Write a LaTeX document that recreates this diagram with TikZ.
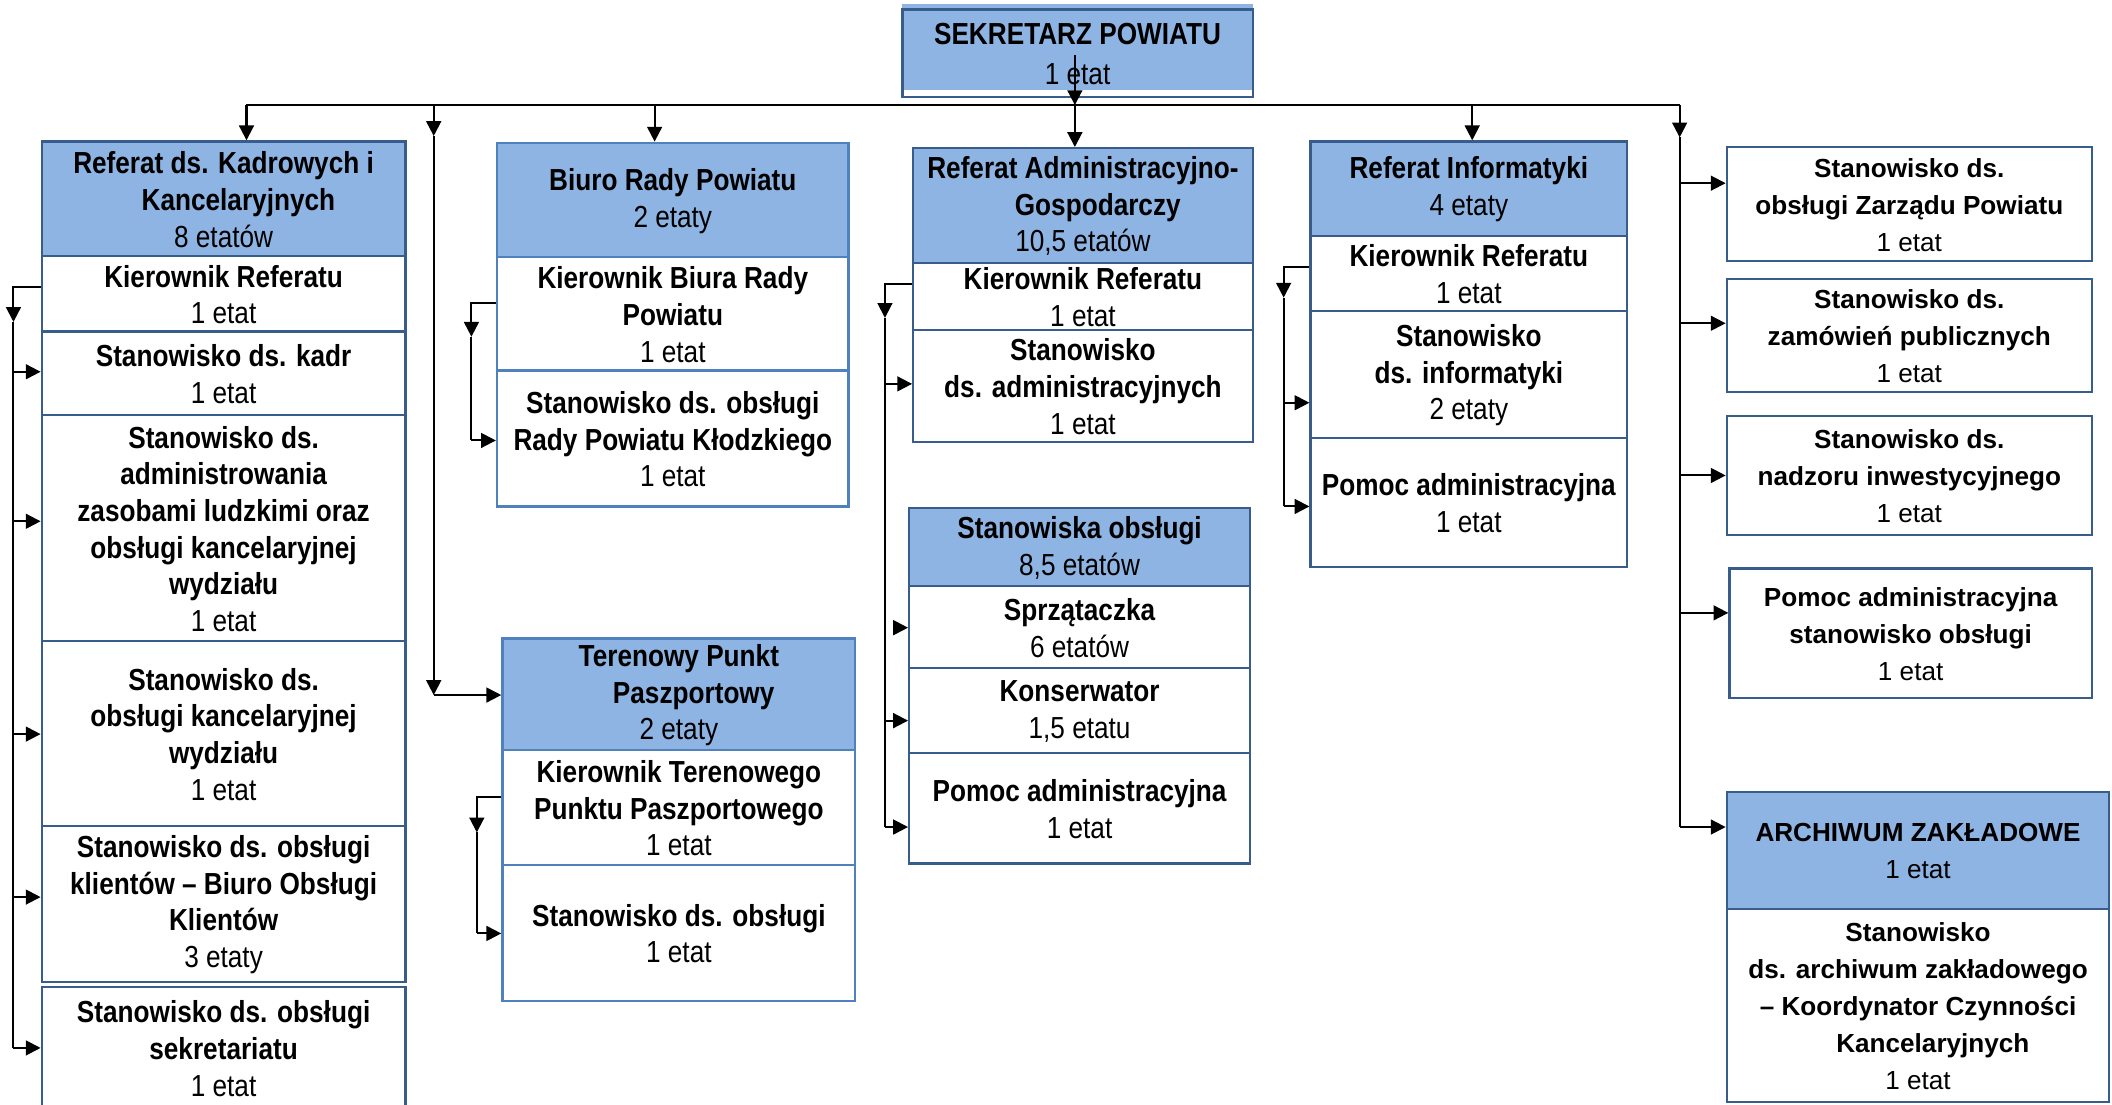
\documentclass[tikz,border=0pt]{standalone}
\usepackage{fontspec}
\setmainfont{Liberation Sans}
\newfontfamily\nb[FakeStretch=0.86]{Liberation Sans}
\usetikzlibrary{fit,arrows.meta}
\definecolor{bfill}{RGB}{142,180,227}
\definecolor{bdark}{RGB}{56,93,138}
\definecolor{blight}{RGB}{79,129,189}
\newcommand\nfont{\nb\fontsize{11.3}{13.6}\selectfont\bfseries}
\newcommand\rfont{\fontsize{9.7}{13.75}\selectfont\bfseries}
\newcommand\et[1]{{\mdseries #1}}
\newcommand\ind{\hspace*{11pt}}
\tikzset{
 box/.style={draw=bdark, line width=0.85pt, inner sep=0pt},
 ntx/.style={font=\nfont, align=center, inner sep=0pt},
 rtx/.style={font=\rfont, align=center, inner sep=0pt},
 hd/.style={fill=bfill},
 wb/.style={},
 lt/.style={draw=blight},
 conn/.style={line width=0.75pt, black},
 arr/.style={conn, -{Triangle[length=5.5pt,width=5.5pt]}},
}
% #1 box options, #2 fit points, #3 name, #4 text style, #5 text
\newcommand\bx[5]{\node[box,#1,fit={#2}] (#3) {};
  \node[#4] (#3t) at ([yshift=-0.3pt]#3.center) {#5};}
\begin{document}
\begin{tikzpicture}[x=0.5pt,y=-0.5pt]
\useasboundingbox (0,0) rectangle (1568,820);
% Sekretarz
\fill[bfill] (670,3) rectangle (930,67);
\bx{}{(670,7) (930,72)}{sek}{ntx}{SEKRETARZ POWIATU\\[1pt]\et{1 etat}}
% Kadr column
\bx{hd}{(31,105) (301,190)}{kh}{ntx}{Referat ds. Kadrowych i\\\ind Kancelaryjnych\\\et{8 etatów}}
\bx{wb}{(31,190) (301,246)}{k1}{ntx}{Kierownik Referatu\\\et{1 etat}}
\bx{wb}{(31,246) (301,308)}{k2}{ntx}{Stanowisko ds. kadr\\\et{1 etat}}
\bx{wb}{(31,308) (301,476)}{k3}{ntx}{Stanowisko ds.\\administrowania\\zasobami ludzkimi oraz\\obsługi kancelaryjnej\\wydziału\\\et{1 etat}}
\bx{wb}{(31,476) (301,613)}{k4}{ntx}{Stanowisko ds.\\obsługi kancelaryjnej\\wydziału\\\et{1 etat}}
\bx{wb}{(31,613) (301,729)}{k5}{ntx}{Stanowisko ds. obsługi\\klientów – Biuro Obsługi\\Klientów\\\et{3 etaty}}
\bx{wb}{(31,733) (301,823)}{k6}{ntx}{Stanowisko ds. obsługi\\sekretariatu\\\et{1 etat}}
% Biuro
\bx{hd,lt}{(369,106) (630,191)}{bh}{ntx}{Biuro Rady Powiatu\\\et{2 etaty}}
\bx{wb,lt}{(369,191) (630,275)}{b1}{ntx}{Kierownik Biura Rady\\Powiatu\\\et{1 etat}}
\bx{wb,lt}{(369,275) (630,376)}{b2}{ntx}{Stanowisko ds. obsługi\\Rady Powiatu Kłodzkiego\\\et{1 etat}}
% Terenowy
\bx{hd,lt}{(373,474) (635,557)}{th}{ntx}{Terenowy Punkt\\\ind Paszportowy\\\et{2 etaty}}
\bx{wb,lt}{(373,557) (635,642)}{t1}{ntx}{Kierownik Terenowego\\Punktu Paszportowego\\\et{1 etat}}
\bx{wb,lt}{(373,642) (635,743)}{t2}{ntx}{Stanowisko ds. obsługi\\\et{1 etat}}
% Admin
\bx{hd}{(678,110) (930,195)}{ah}{ntx}{Referat Administracyjno-\\\ind Gospodarczy\\\et{10,5 etatów}}
\bx{wb}{(678,195) (930,245)}{a1}{ntx}{Kierownik Referatu\\\et{1 etat}}
\bx{wb}{(678,245) (930,328)}{a2}{ntx}{Stanowisko\\ds. administracyjnych\\\et{1 etat}}
% Obsluga
\bx{hd}{(675,377) (928,435)}{oh}{ntx}{Stanowiska obsługi\\\et{8,5 etatów}}
\bx{wb}{(675,435) (928,496)}{o1}{ntx}{Sprzątaczka\\\et{6 etatów}}
\bx{wb}{(675,496) (928,559)}{o2}{ntx}{Konserwator\\\et{1,5 etatu}}
\bx{wb}{(675,559) (928,641)}{o3}{ntx}{Pomoc administracyjna\\\et{1 etat}}
% Informatyka
\bx{hd}{(973,105) (1208,175)}{ih}{ntx}{Referat Informatyki\\\et{4 etaty}}
\bx{wb}{(973,175) (1208,231)}{i1}{ntx}{Kierownik Referatu\\\et{1 etat}}
\bx{wb}{(973,231) (1208,325)}{i2}{ntx}{Stanowisko\\ds. informatyki\\\et{2 etaty}}
\bx{wb}{(973,325) (1208,421)}{i3}{ntx}{Pomoc administracyjna\\\et{1 etat}}
% Right column
\bx{wb}{(1282,109) (1553,194)}{r1}{rtx}{Stanowisko ds.\\obsługi Zarządu Powiatu\\\et{1 etat}}
\bx{wb}{(1282,207) (1553,291)}{r2}{rtx}{Stanowisko ds.\\zamówień publicznych\\\et{1 etat}}
\bx{wb}{(1282,309) (1553,397)}{r3}{rtx}{Stanowisko ds.\\nadzoru inwestycyjnego\\\et{1 etat}}
\bx{wb}{(1284,422) (1553,518)}{r4}{rtx}{Pomoc administracyjna\\stanowisko obsługi\\\et{1 etat}}
\bx{hd}{(1282,588) (1566,675)}{arh}{rtx}{ARCHIWUM ZAKŁADOWE\\\et{1 etat}}
\bx{wb}{(1282,675) (1566,818)}{ar1}{rtx}{Stanowisko\\ds. archiwum zakładowego\\– Koordynator Czynności\\\ind Kancelaryjnych\\\et{1 etat}}
% Bus
\coordinate (pL) at (183,78); \coordinate (pR) at (1247,78);
\draw[conn] (pL) -- (pR);
\coordinate (s0) at (798,41); \coordinate (s1) at (798,78);
\draw[arr] (s0) -- (s1);
\draw[arr] (pL) -- (pL |- kh.north);
\coordinate (p2) at (322,78); \coordinate (p2a) at (322,101); \coordinate (p2b) at (322,516);
\draw[arr] (p2) -- (p2a); \draw[arr] (p2a) -- (p2b); \draw[arr] (p2b) -- (th.west |- p2b);
\coordinate (p3) at (486,78); \draw[arr] (p3) -- (p3 |- bh.north);
\coordinate (p4) at (798,78); \draw[arr] (p4) -- (p4 |- ah.north);
\coordinate (p5) at (1093,78); \draw[arr] (p5) -- (p5 |- ih.north);
\coordinate (p6a) at (1247,102); \coordinate (p6b) at (1247,614);
\draw[arr] (pR) -- (p6a); \draw[conn] (p6a) -- (p6b);
\foreach \n/\yy in {r1/136,r2/240,r3/353,r4/455,arh/614}{
  \coordinate (tmp) at (1247,\yy); \draw[arr] (tmp) -- (\n.west |- tmp);}
% Kadr rail
\coordinate (kr0) at (10,213); \coordinate (kr1) at (10,239); \coordinate (kr2) at (10,778);
\draw[arr] (k1.west |- kr0) -- (kr0) -- (kr1);
\draw[conn] (kr1) -- (kr2);
\foreach \n/\yy in {k2/276,k3/387,k4/545,k5/666,k6/778}{
  \coordinate (tmp) at (10,\yy); \draw[arr] (tmp) -- (\n.west |- tmp);}
% Biuro rail
\coordinate (bx0) at (350,225); \coordinate (bx1) at (350,250); \coordinate (bx2) at (350,327);
\draw[arr] (b1.west |- bx0) -- (bx0) -- (bx1);
\draw[conn] (bx1) -- (bx2); \draw[arr] (bx2) -- (b2.west |- bx2);
% Teren rail
\coordinate (tx0) at (354,592); \coordinate (tx1) at (354,618); \coordinate (tx2) at (354,693);
\draw[arr] (t1.west |- tx0) -- (tx0) -- (tx1);
\draw[conn] (tx1) -- (tx2); \draw[arr] (tx2) -- (t2.west |- tx2);
% Admin rail
\coordinate (ax0) at (657,211); \coordinate (ax1) at (657,236); \coordinate (ax2) at (657,614);
\draw[arr] (a1.west |- ax0) -- (ax0) -- (ax1);
\draw[conn] (ax1) -- (ax2);
\foreach \n/\yy in {a2/285,o2/535,o3/614}{
  \coordinate (tmp) at (657,\yy); \draw[arr] (tmp) -- (\n.west |- tmp);}
\coordinate (ostub) at (663,466); \draw[arr] (ostub) -- (o1.west |- ostub);
% Info rail
\coordinate (ix0) at (953,198); \coordinate (ix1) at (953,221); \coordinate (ix2) at (953,376);
\draw[arr] (i1.west |- ix0) -- (ix0) -- (ix1);
\draw[conn] (ix1) -- (ix2);
\foreach \n/\yy in {i2/299,i3/376}{
  \coordinate (tmp) at (953,\yy); \draw[arr] (tmp) -- (\n.west |- tmp);}
\end{tikzpicture}
\end{document}
